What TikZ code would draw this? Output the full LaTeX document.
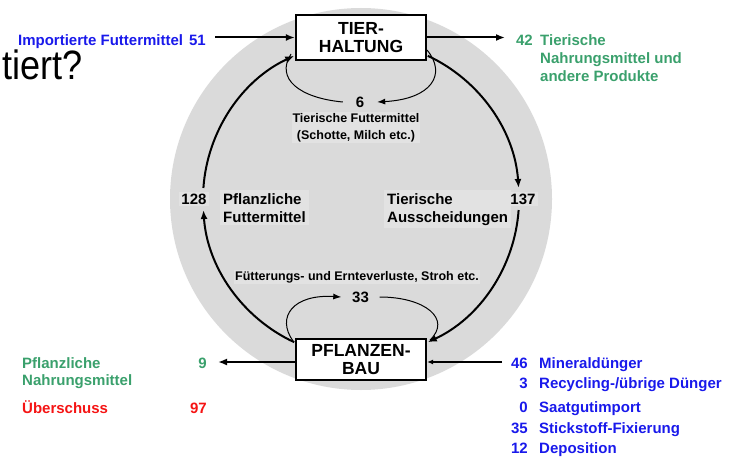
\documentclass[tikz,border=0pt]{standalone}
\usepackage{fontspec}
\setmainfont{Liberation Sans}
\usetikzlibrary{arrows.meta,calc}
\definecolor{circgray}{RGB}{218,218,218}
\definecolor{labgray}{RGB}{226,226,226}
\definecolor{fblue}{RGB}{25,25,235}
\definecolor{fgreen}{RGB}{58,160,108}
\definecolor{fred}{RGB}{245,20,20}
\tikzset{
  x=1pt,y=1pt,
  mainbox/.style={draw,line width=2.2pt,fill=white,minimum width=130,inner sep=0pt,align=center,font=\fontsize{17.5}{18}\selectfont\bfseries},
  medtxt/.style={inner sep=0pt,font=\fontsize{15}{18}\selectfont\bfseries},
  smalltxt/.style={inner sep=1pt,font=\fontsize{12.5}{17}\selectfont\bfseries},
  thick flow/.style={line width=2pt,-{Latex[length=9pt,width=7pt]}},
  thick line/.style={line width=2pt},
  thin flow/.style={line width=1pt,-{Latex[length=8pt,width=6pt]}},
  thin line/.style={line width=1pt},
}
\begin{document}
\begin{tikzpicture}
\useasboundingbox (0,0) rectangle (735,459);
% background slide title fragment
\node[anchor=base east,inner sep=0pt,xscale=0.88,transform shape,font=\fontsize{41}{41}\selectfont] (title) at (83,380) {tiert?};
% gray disc
\fill[circgray] (361,260) circle (191);
\coordinate (C) at (361,260);
% boxes
\node[mainbox,minimum height=45] (T) at (361,421.5) {TIER-\\HALTUNG};
\node[mainbox,minimum height=41] (P) at (361,99.5) {PFLANZEN-\\BAU};
% main cycle arcs
\coordinate (La) at ($(C)+(245:158)$);
\coordinate (Lb) at ($(C)+(176:158)$);
\coordinate (Ra) at ($(C)+(65:158)$);
\coordinate (Rb) at ($(C)+(-4:158)$);
\draw[thick flow] (La) arc[start angle=245,end angle=184,radius=158];
\draw[thick flow] (Lb) arc[start angle=176,end angle=115,radius=158];
\draw[thick flow] (Ra) arc[start angle=65,end angle=4,radius=158];
\draw[thick flow] (Rb) arc[start angle=-4,end angle=-65,radius=158];
\node[medtxt,fill=labgray,inner sep=2pt] (n128) at (194,260) {128};
\node[medtxt,fill=labgray,inner sep=2pt] (n137) at (523,260) {137};
% center labels
\node[medtxt,fill=labgray,inner sep=3pt,align=left,anchor=north west] (pf) at (220,269) {Pflanzliche\\Futtermittel};
\node[medtxt,fill=labgray,inner sep=3pt,align=left,anchor=north west] (ta) at (384,269) {Tierische\\Ausscheidungen};
% small loop at TIER-HALTUNG
\node[medtxt,minimum width=34] (six) at (360,357) {6};
\node[smalltxt,fill=labgray,align=center,anchor=north] (tf) at (356,347) {Tierische Futtermittel\\(Schotte, Milch etc.)};
\draw[thin line] (291,405) .. controls (275,380) and (300,361) .. (six.west);
\draw[thin flow] (427,409) .. controls (447,385) and (432,360) .. (six.east);
% small loop at PFLANZENBAU
\node[smalltxt,fill=labgray] (fe) at (357,182) {Fütterungs- und Ernteverluste, Stroh etc.};
\node[medtxt,minimum width=38] (n33) at (360.5,162) {33};
\draw[thin flow] (293,118) .. controls (276,142) and (293,165) .. (n33.west);
\draw[thin line] (n33.east) .. controls (425,162) and (452,140) .. (430,119);
% import to TIER-HALTUNG
\node[medtxt,text=fblue,anchor=base east] (imp) at (206,413.6) {Importierte Futtermittel\hspace{6pt}51};
\coordinate (impS) at (215,421.5);
\draw[thick flow] (impS) -- (impS -| T.west);
% output of TIER-HALTUNG
\coordinate (outT) at (505,421.5);
\draw[thick flow] (T.east |- outT) -- (outT);
\node[medtxt,text=fgreen,anchor=base east] (n42) at (533,413.6) {42};
\node[medtxt,text=fgreen,anchor=base west] (tn1) at (540,413.6) {Tierische};
\node[medtxt,text=fgreen,anchor=base west] (tn2) at (540,395.6) {Nahrungsmittel und};
\node[medtxt,text=fgreen,anchor=base west] (tn3) at (540,377.6) {andere Produkte};
% output of PFLANZENBAU
\coordinate (outP) at (218,97);
\draw[thick flow] (P.west |- outP) -- (outP);
\node[medtxt,text=fgreen,anchor=base west] (pn1) at (22,90.6) {Pflanzliche};
\node[medtxt,text=fgreen,anchor=base west] (pn2) at (22,73.6) {Nahrungsmittel};
\node[medtxt,text=fgreen,anchor=base east] (n9) at (207,90.6) {9};
\node[medtxt,text=fred,anchor=base west] (ub) at (22,45.6) {Überschuss};
\node[medtxt,text=fred,anchor=base east] (n97) at (207,45.6) {97};
% inputs to PFLANZENBAU
\coordinate (inP) at (502,97);
\draw[line width=2pt,-{Latex[length=6pt,width=5pt]}] (inP) -- (inP -| P.east);
\node[medtxt,text=fblue,anchor=base east] (i1n) at (528,90.6) {46};
\node[medtxt,text=fblue,anchor=base west] (i1t) at (539,90.6) {Mineraldünger};
\node[medtxt,text=fblue,anchor=base east] (i2n) at (528,70.6) {3};
\node[medtxt,text=fblue,anchor=base west] (i2t) at (539,70.6) {Recycling-/übrige Dünger};
\node[medtxt,text=fblue,anchor=base east] (i3n) at (528,46.6) {0};
\node[medtxt,text=fblue,anchor=base west] (i3t) at (539,46.6) {Saatgutimport};
\node[medtxt,text=fblue,anchor=base east] (i4n) at (528,25.6) {35};
\node[medtxt,text=fblue,anchor=base west] (i4t) at (539,25.6) {Stickstoff-Fixierung};
\node[medtxt,text=fblue,anchor=base east] (i5n) at (528,5.6) {12};
\node[medtxt,text=fblue,anchor=base west] (i5t) at (539,5.6) {Deposition};
\end{tikzpicture}
\end{document}
